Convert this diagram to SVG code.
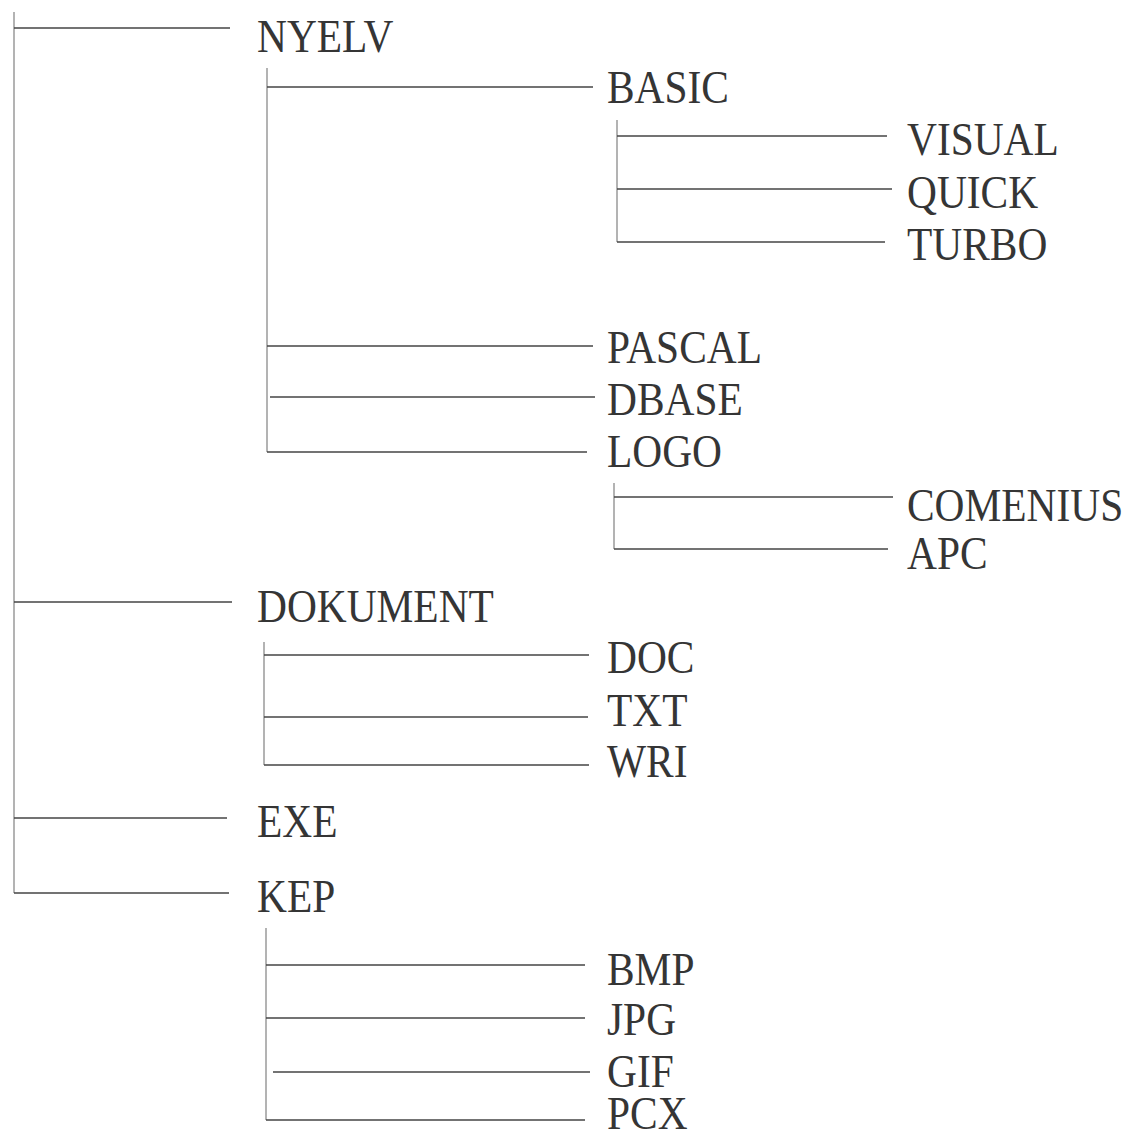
<svg xmlns="http://www.w3.org/2000/svg" width="1130" height="1140" viewBox="0 0 1130 1140">
<style>
  .bg { fill: #ffffff; }
  .h { stroke: #454545; stroke-width: 1.7; fill: none; }
  .v { stroke: #8a8a8a; stroke-width: 1.3; fill: none; }
  .t { font-family: "Liberation Serif", "Times New Roman", serif; font-size: 46px; fill: #353535; }
</style>
<rect class="bg" x="0" y="0" width="1130" height="1140"/>
<g id="connectors">
  <!-- root -->
  <line class="v" x1="14" y1="12" x2="14" y2="893"/>
  <line class="h" x1="14" y1="28" x2="230" y2="28"/>
  <line class="h" x1="14" y1="602" x2="232" y2="602"/>
  <line class="h" x1="14" y1="818" x2="227" y2="818"/>
  <line class="h" x1="14" y1="893" x2="229" y2="893"/>
  <!-- NYELV children -->
  <line class="v" x1="267" y1="68" x2="267" y2="452"/>
  <line class="h" x1="267" y1="87" x2="593" y2="87"/>
  <line class="h" x1="267" y1="346" x2="593" y2="346"/>
  <line class="h" x1="270" y1="397" x2="595" y2="397"/>
  <line class="h" x1="267" y1="452" x2="587" y2="452"/>
  <!-- BASIC children -->
  <line class="v" x1="617" y1="120" x2="617" y2="242"/>
  <line class="h" x1="617" y1="136" x2="887" y2="136"/>
  <line class="h" x1="617" y1="189" x2="892" y2="189"/>
  <line class="h" x1="617" y1="242" x2="885" y2="242"/>
  <!-- LOGO children -->
  <line class="v" x1="614" y1="483" x2="614" y2="549"/>
  <line class="h" x1="614" y1="497" x2="893" y2="497"/>
  <line class="h" x1="614" y1="549" x2="888" y2="549"/>
  <!-- DOKUMENT children -->
  <line class="v" x1="264" y1="642" x2="264" y2="765"/>
  <line class="h" x1="264" y1="655" x2="589" y2="655"/>
  <line class="h" x1="264" y1="717" x2="588" y2="717"/>
  <line class="h" x1="264" y1="765" x2="589" y2="765"/>
  <!-- KEP children -->
  <line class="v" x1="266" y1="928" x2="266" y2="1120"/>
  <line class="h" x1="266" y1="965" x2="585" y2="965"/>
  <line class="h" x1="266" y1="1018" x2="585" y2="1018"/>
  <line class="h" x1="273" y1="1072" x2="590" y2="1072"/>
  <line class="h" x1="266" y1="1120" x2="585" y2="1120"/>
</g>
<g id="node-nyelv"><text class="t" transform="translate(257,52) scale(0.9,1)">NYELV</text></g>
<g id="node-basic"><text class="t" transform="translate(607,103) scale(0.9,1)">BASIC</text></g>
<g id="node-visual"><text class="t" transform="translate(907,155) scale(0.9,1)">VISUAL</text></g>
<g id="node-quick"><text class="t" transform="translate(907,208) scale(0.9,1)">QUICK</text></g>
<g id="node-turbo"><text class="t" transform="translate(907,260) scale(0.9,1)">TURBO</text></g>
<g id="node-pascal"><text class="t" transform="translate(607,363) scale(0.9,1)">PASCAL</text></g>
<g id="node-dbase"><text class="t" transform="translate(607,415) scale(0.9,1)">DBASE</text></g>
<g id="node-logo"><text class="t" transform="translate(607,467) scale(0.9,1)">LOGO</text></g>
<g id="node-comenius"><text class="t" transform="translate(907,521) scale(0.9,1)">COMENIUS</text></g>
<g id="node-apc"><text class="t" transform="translate(907,569) scale(0.9,1)">APC</text></g>
<g id="node-dokument"><text class="t" transform="translate(257,622) scale(0.9,1)">DOKUMENT</text></g>
<g id="node-doc"><text class="t" transform="translate(607,673) scale(0.9,1)">DOC</text></g>
<g id="node-txt"><text class="t" transform="translate(607,726) scale(0.9,1)">TXT</text></g>
<g id="node-wri"><text class="t" transform="translate(607,777) scale(0.9,1)">WRI</text></g>
<g id="node-exe"><text class="t" transform="translate(257,837) scale(0.9,1)">EXE</text></g>
<g id="node-kep"><text class="t" transform="translate(257,912) scale(0.9,1)">KEP</text></g>
<g id="node-bmp"><text class="t" transform="translate(607,985) scale(0.9,1)">BMP</text></g>
<g id="node-jpg"><text class="t" transform="translate(607,1035) scale(0.9,1)">JPG</text></g>
<g id="node-gif"><text class="t" transform="translate(607,1087) scale(0.9,1)">GIF</text></g>
<g id="node-pcx"><text class="t" transform="translate(607,1129) scale(0.9,1)">PCX</text></g>
</svg>
